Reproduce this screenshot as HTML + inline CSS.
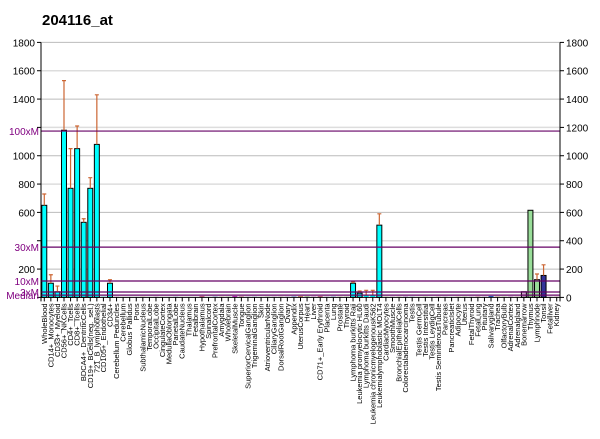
<!DOCTYPE html>
<html><head><meta charset="utf-8"><style>
body{margin:0;background:#fff;width:600px;height:434px;overflow:hidden;font-family:"Liberation Sans",sans-serif}
</style></head><body>
<svg id="chart" width="600" height="434" xmlns="http://www.w3.org/2000/svg" font-family="Liberation Sans, sans-serif">
<text x="42" y="25" font-size="15" font-weight="bold">204116_at</text>
<g id="grid"></g><g id="bars"></g><g id="axes"></g><g id="labels"></g>
</svg>
<script>
const categories=["WholeBlood","CD14+_Monocytes","CD33+_Myeloid","CD56+_NKCells","CD4+_Tcells","CD8+_Tcells","BDCA4+_DentriticCells","CD19+_BCells(neg._sel.)","721_B_lymphoblasts","CD105+_Endothelial","CD34+","Cerebellum Peduncles","Cerebellum","Globus Pallidus","Pons","SubthalamicNucleus","TemporalLobe","OccipitalLobe","CingulateCortex","MedullaOblongata","ParietalLobe","CaudateNucleus","Thalamus","Fetalbrain","Hypothalamus","Spinalcord","PrefrontalCortex","Amygdala","Wholebrain","SkeletalMuscle","Tongue","SuperiorCervicalGanglion","TrigeminalGanglion","Skin","AtrioventricularNode","CiliaryGanglion","DorsalRootGanglion","Ovary","Appendix","UterusCorpus","Heart","Liver","CD71+_Early Erythroid","Placenta","Lung","Prostate","Thyroid","Lymphoma burkitts Raji","Leukemia promyelocytic HL60","Lymphoma burkitts Daudi","Leukemia chronicmyelogenousK562","Leukemialymphoblastic MOLT4","CardiacMyocytes","SmoothMuscle","BronchialEpithelialCells","Colorectaladenocarcinoma","Testis","Testis GermCell","Testis Interstitial","Testis LeydigCell","Testis SeminiferousTubule","Pancreas","PancreaticIslet","Adipocyte","Uterus","FetalThyroid","FetalLung","Pituitary","Salivarygland","Trachea","OlfactoryBulb","AdrenalCortex","Adrenalgland","Bonemarrow","Thymus","Lymphnode","Tonsil","Fetalliver","Kidney"];
const values=[650,100,40,1180,770,1050,530,770,1080,5,100,4,3,3,3,4,3,4,3,3,4,3,3,3,8,3,5,4,4,10,6,4,4,3,4,4,4,4,6,8,6,5,8,4,5,4,4,100,30,15,20,510,4,4,4,5,4,3,4,3,4,4,3,4,4,4,5,4,10,5,4,5,4,40,615,125,155,4,4];
const errors=[730,160,80,1530,1050,1210,555,845,1430,0,125,0,0,0,0,0,0,0,0,0,0,0,0,0,0,0,0,0,0,0,0,0,0,0,0,0,0,0,0,0,0,0,0,0,0,0,0,110,45,50,50,590,0,0,0,0,0,0,0,0,0,0,0,0,0,0,0,0,0,0,0,0,0,0,0,165,230,0,0];
const yTicks=[0,200,400,600,800,1000,1200,1400,1600,1800];
const leftTickLabels=["","200","","600","800","1000","","1400","1600","1800"];
const refNames=["100xM","30xM","10xM","3xM","Median"];
const refValues=[1174,355,116,38,16];
const NS="http://www.w3.org/2000/svg";
const X0=41,X1=560,Y0=297.4,Y1=42.4,VMAX=1800;
const pitch=(X1-X0)/categories.length;
function yS(v){return Y0-(v/VMAX)*(Y0-Y1);}
function xS(i){return X0+i*pitch;}
function mk(tag,attrs,parent){const e=document.createElementNS(NS,tag);for(const k in attrs)e.setAttribute(k,attrs[k]);parent.appendChild(e);return e;}
const grid=document.getElementById('grid'),bars=document.getElementById('bars'),axes=document.getElementById('axes'),labels=document.getElementById('labels');
yTicks.forEach((t,i)=>{if(t===0)return;
 const l=mk('line',{x1:X0,x2:X1,y1:yS(t),y2:yS(t),stroke:(i%2?'#bbbbbb':'#dddddd'),'stroke-width':(i%2?1:1.5)},grid);
 
 });
function colorFor(i){
 if(i<=10||(i>=47&&i<=51))return '#00ffff';
 if(i===74||i===75)return '#99dd99';
 if(i===76)return '#333399';
 if(i===73)return '#ccaacc';
 const pal=['#cc3366','#9933cc','#3366cc','#cc6633','#66aa33','#cc33cc'];return pal[i%pal.length];}
values.forEach((v,i)=>{
 const x=xS(i)+0.8,w=pitch-1.6,y=yS(v);
 const r=mk('rect',{x:x,y:y,width:w,height:Y0-y,fill:colorFor(i),stroke:v>20?'#000':'none','stroke-width':1},bars);
 
 
 if(errors[i]>v){const cx=xS(i)+pitch/2;
  const e=mk('path',{d:`M${cx},${y}V${yS(errors[i])}M${cx-2},${yS(errors[i])}H${cx+2}`,stroke:'#cc6633','stroke-width':1.2,fill:'none'},bars);
  
  }
});
refValues.forEach((v,i)=>{
 const l=mk('line',{x1:X0,x2:X1,y1:yS(v),y2:yS(v),stroke:'#660066','stroke-width':1.2},axes);
 
 
 const t=mk('text',{x:X0-2,y:yS(v)+4,'text-anchor':'end','font-size':10,fill:'#800080'},labels);t.textContent=refNames[i];
 
 });
mk('line',{x1:X0,x2:X0,y1:Y1,y2:Y0+4,stroke:'#000'},axes);
mk('line',{x1:X1,x2:X1,y1:Y1,y2:Y0+4,stroke:'#000'},axes);
mk('line',{x1:X0,x2:X1,y1:Y0,y2:Y0,stroke:'#000'},axes);
yTicks.forEach((t,i)=>{const y=yS(t);
 mk('line',{x1:X0-4,x2:X0,y1:y,y2:y,stroke:'#000'},axes);
 mk('line',{x1:X1,x2:X1+4,y1:y,y2:y,stroke:'#000'},axes);
 if(leftTickLabels[i]){const a=mk('text',{x:X0-6,y:y+4,'text-anchor':'end','font-size':10},labels);a.textContent=leftTickLabels[i];
  
  }
 const b=mk('text',{x:X1+6,y:y+4,'font-size':10},labels);b.textContent=String(t);
 
 });
categories.forEach((c,i)=>{const cx=xS(i)+pitch/2;
 mk('line',{x1:cx,x2:cx,y1:Y0,y2:Y0+4,stroke:'#000'},axes);
 const t=mk('text',{x:0,y:0,'text-anchor':'end','font-size':7.5,transform:`translate(${cx+2.5},${Y0+6}) rotate(-90)`},labels);
 t.textContent=c;
 
 });
</script>
</body></html>
